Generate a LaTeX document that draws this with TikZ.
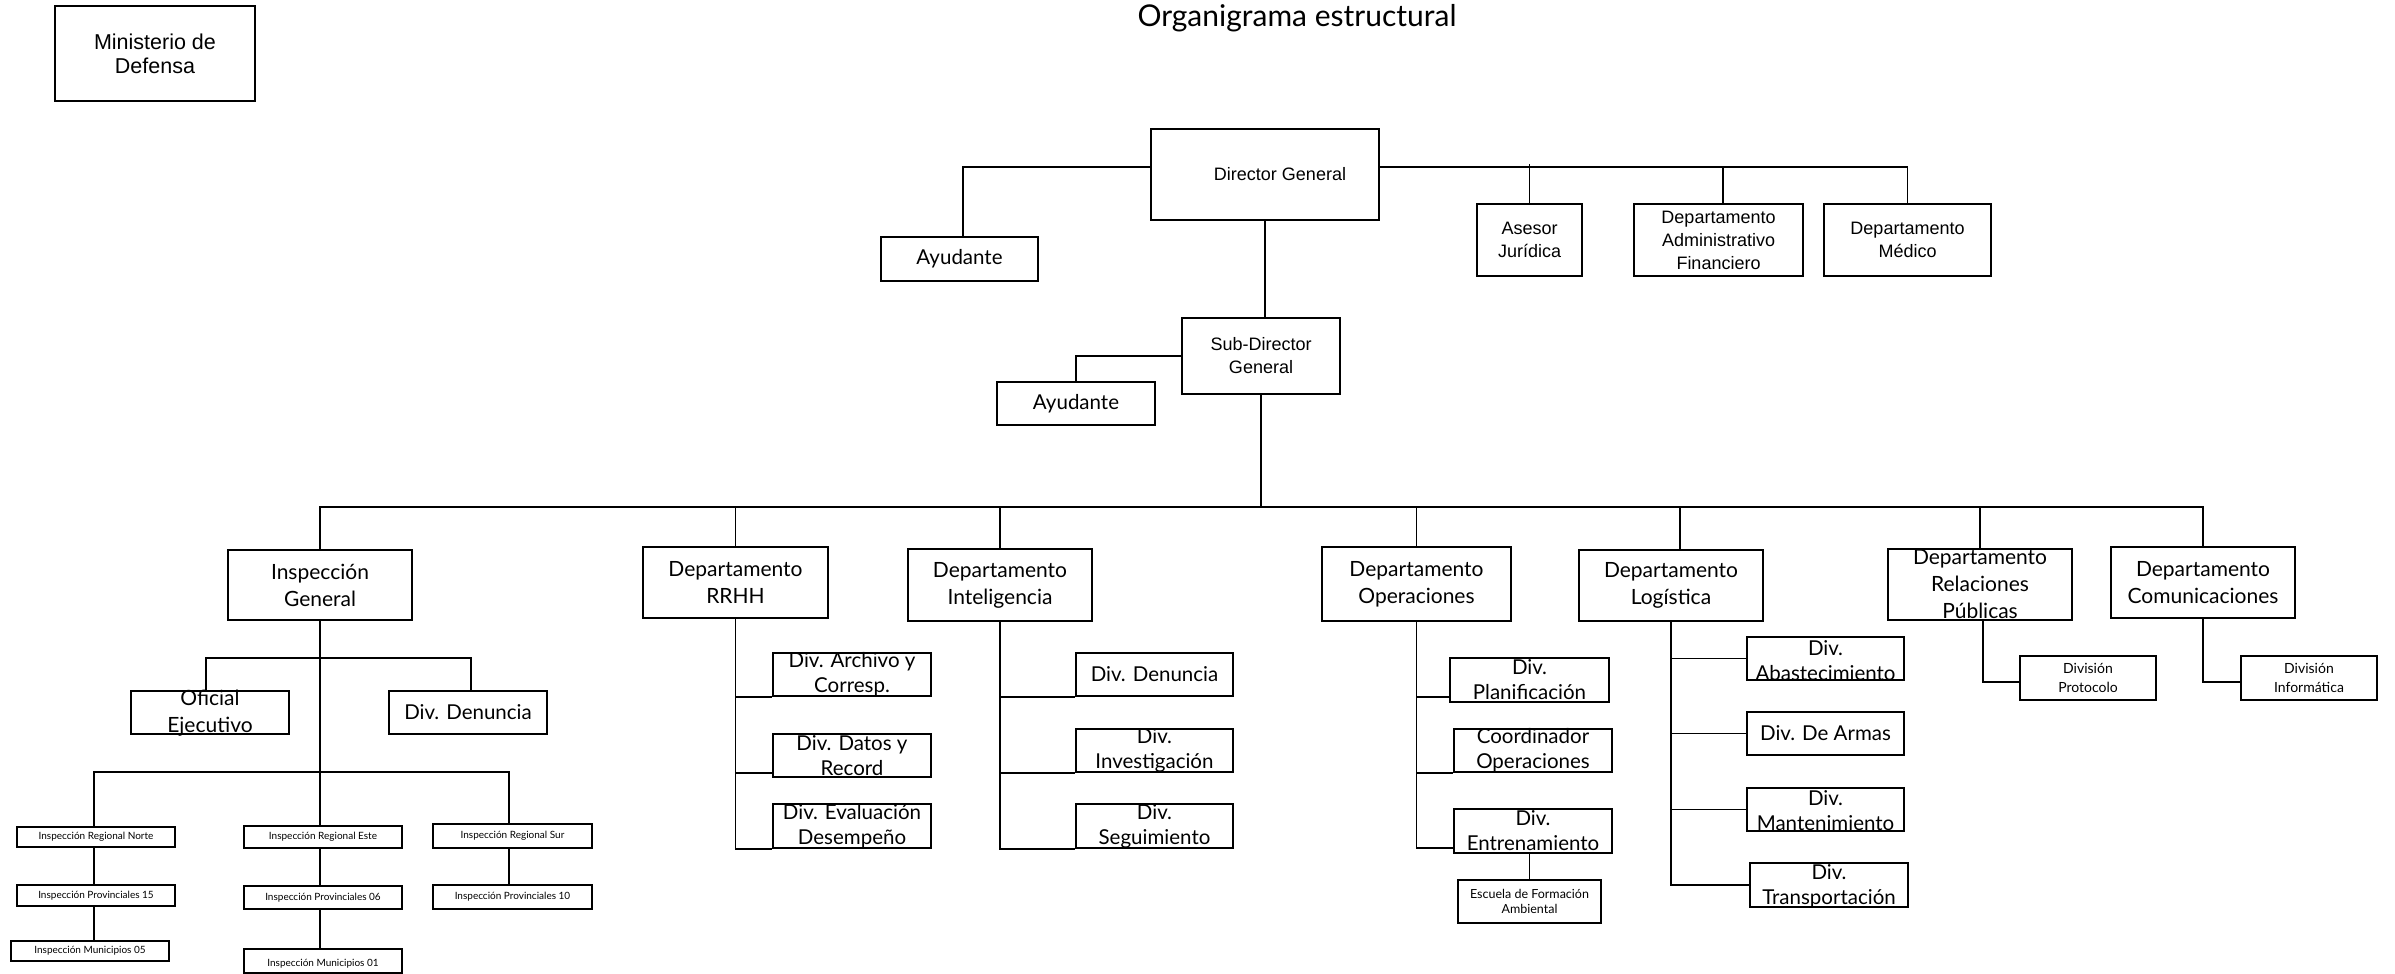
\documentclass[tikz,border=0pt]{standalone}
\usepackage{fontspec}
\setmainfont{Lato}
\newfontfamily\arialfont{Liberation Sans}

\begin{document}
\begin{tikzpicture}[x=1pt, y=-1pt, line width=1.8pt,
    box/.style 2 args={draw, inner sep=0pt, minimum width=#1pt, minimum height=#2pt},
    arial/.style={font=\arialfont\fontsize{18}{23}\selectfont, align=center},
    dept/.style={font=\fontsize{21}{27}\selectfont, align=center},
    div/.style={font=\fontsize{20.5}{25}\selectfont, align=center},
    mini/.style={font=\fontsize{10}{12}\selectfont},
    sub/.style={font=\fontsize{14}{19}\selectfont, align=center},
    school/.style={font=\fontsize{12.5}{15}\selectfont, align=center}]

  \useasboundingbox (0,0) rectangle (2395,974);

  % titulo y ministerio
  \node[font=\fontsize{30}{36}\selectfont, anchor=base] (titulo) at (1297,27) {Organigrama estructural};
  \node[box={200}{95}, label={[arial, font=\arialfont\fontsize{21.5}{24}\selectfont]center:Ministerio de\\Defensa}] (mindef) at (155,53.5) {};

  % direccion
  \node[box={227.5}{91}, label={[arial, xshift=15pt]center:Director General}] (dg) at (1265,174.5) {};
  \node[box={157}{44}, label={[div]center:Ayudante}] (ayu1) at (959.5,259) {};
  \node[box={105}{72}, label={[arial]center:Asesor\\Jurídica}] (ase) at (1529.5,240) {};
  \node[box={169}{72}, label={[arial]center:Departamento\\Administrativo\\Financiero}] (adm) at (1718.5,240) {};
  \node[box={167}{72}, label={[arial]center:Departamento\\Médico}] (med) at (1907.5,240) {};
  \node[box={158}{76}, label={[arial]center:Sub-Director\\General}] (sdg) at (1261,356) {};
  \node[box={158}{43}, label={[div]center:Ayudante}] (ayu2) at (1076,403.5) {};

  % departamentos
  \node[box={184}{70}, label={[dept]center:Inspección\\General}] (ig) at (320,585) {};
  \node[box={185}{71}, label={[dept]center:Departamento\\RRHH}] (rrhh) at (735.5,582.5) {};
  \node[box={184}{72}, label={[dept]center:Departamento\\Inteligencia}] (intel) at (1000,585) {};
  \node[box={189}{74}, label={[dept]center:Departamento\\Operaciones}] (ope) at (1416.5,584) {};
  \node[box={184}{71}, label={[dept]center:Departamento\\Logística}] (log) at (1671,585.5) {};
  \node[box={184}{71}, label={[dept]center:Departamento\\Relaciones\\Públicas}] (rp) at (1980,584.5) {};
  \node[box={184}{71}, label={[dept]center:Departamento\\Comunicaciones}] (com) at (2203,582.5) {};

  % inspeccion general
  \node[box={158}{43}, label={[dept, yshift=-1pt]center:Oficial\\Ejecutivo}] (ofi) at (210,712.5) {};
  \node[box={158}{43}, label={[div]center:Div. Denuncia}] (denig) at (468,712.5) {};
  \node[box={158}{20}, label={[mini]center:Inspección Regional Norte}] (rn) at (96,837) {};
  \node[box={158}{21}, label={[mini]center:Inspección Provinciales 15}] (p15) at (96,895.5) {};
  \node[box={158}{20}, label={[mini]center:Inspección Municipios 05}] (m05) at (90,951) {};
  \node[box={158}{22}, label={[mini]center:Inspección Regional Este}] (re) at (323,837) {};
  \node[box={158}{23}, label={[mini]center:Inspección Provinciales 06}] (p06) at (323,897.5) {};
  \node[box={158}{24}, label={[mini, yshift=-3pt]center:Inspección Municipios 01}] (m01) at (323,961) {};
  \node[box={159}{24}, label={[mini]center:Inspección Regional Sur}] (rs) at (512.5,836) {};
  \node[box={159}{24}, label={[mini]center:Inspección Provinciales 10}] (p10) at (512.5,897) {};

  % rrhh
  \node[box={158}{43}, label={[div]center:Div. Archivo y\\Corresp.}] (arch) at (852,674.5) {};
  \node[box={158}{43}, label={[div]center:Div. Datos y\\Record}] (dat) at (852,755.5) {};
  \node[box={158}{44}, label={[div]center:Div. Evaluación\\Desempeño}] (eva) at (852,826) {};

  % inteligencia
  \node[box={157}{43}, label={[div]center:Div. Denuncia}] (denint) at (1154.5,674.5) {};
  \node[box={157}{43}, label={[div]center:Div.\\Investigación}] (inv) at (1154.5,750.5) {};
  \node[box={157}{44}, label={[div]center:Div.\\Seguimiento}] (seg) at (1154.5,826) {};

  % operaciones
  \node[box={159}{44}, label={[div]center:Div.\\Planificación}] (plan) at (1529.5,680) {};
  \node[box={158}{43}, label={[div]center:Coordinador\\Operaciones}] (coord) at (1533,750.5) {};
  \node[box={158}{44}, label={[div]center:Div.\\Entrenamiento}] (ent) at (1533,831) {};
  \node[box={143}{43}, label={[school]center:Escuela de Formación\\Ambiental}] (esc) at (1529.5,901.5) {};

  % logistica
  \node[box={157}{43}, label={[div, yshift=-2pt]center:Div.\\Abastecimiento}] (abas) at (1825.5,658.5) {};
  \node[box={157}{43}, label={[div]center:Div. De Armas}] (arm) at (1825.5,733.5) {};
  \node[box={157}{43}, label={[div, yshift=-1pt]center:Div.\\Mantenimiento}] (mant) at (1825.5,809.5) {};
  \node[box={158}{44}, label={[div, yshift=-1pt]center:Div.\\Transportación}] (transp) at (1829,885) {};

  % relaciones publicas y comunicaciones
  \node[box={136}{44}, label={[sub]center:División\\Protocolo}] (prot) at (2088,678) {};
  \node[box={136}{44}, label={[sub]center:División\\Informática}] (inf) at (2309,678) {};

  % conectores
  \coordinate (bus) at (0,507);
  \coordinate (ibr) at (0,658);
  \coordinate (ibus) at (0,772);
  \coordinate (dgl) at ([yshift=7.5pt]dg.west);
  \coordinate (dgr) at ([yshift=7.5pt]dg.east);
  \coordinate (datb) at ([yshift=5pt]dat.south west);
  \coordinate (planb) at ([yshift=6pt]plan.south west);
  \coordinate (entb) at ([yshift=6pt]ent.south west);

  \draw (dgl) -| ([xshift=3.5pt]ayu1.north);
  \draw (dgr) -| (med.north);
  \draw (ase.north) -- ([yshift=3pt]ase.north |- dgr);
  \draw ([xshift=4.5pt]adm.north) -- ([xshift=4.5pt]adm.north |- dgr);
  \draw (dg.south) -- (dg.south |- sdg.north);
  \draw (sdg.west) -| (ayu2.north);
  \draw (sdg.south) -- (sdg.south |- bus);
  \draw (ig.north) |- (bus -| com.north) -- (com.north);
  \foreach \d in {rrhh,intel,ope,rp}
    \draw (\d.north) -- (\d.north |- bus);
  \draw ([xshift=9pt]log.north) -- ([xshift=9pt]log.north |- bus);

  \draw (ig.south) -- (ig.south |- re.north);
  \draw ([xshift=-4pt]ofi.north) |- ([xshift=3pt]ibr -| denig.north) -- ([xshift=3pt]denig.north);
  \draw ([xshift=-2pt]rn.north) |- ([xshift=-3.5pt]ibus -| rs.north) -- ([xshift=-3.5pt]rs.north);
  \draw ([xshift=-2pt]rn.south) -- ([xshift=-2pt]p15.north);
  \draw ([xshift=-2pt]p15.south) -- ([xshift=-2pt]p15.south |- m05.north);
  \draw ([xshift=-3pt]re.south) -- ([xshift=-3pt]p06.north);
  \draw ([xshift=-3pt]p06.south) -- ([xshift=-3pt]m01.north);
  \draw ([xshift=-3.5pt]rs.south) -- ([xshift=-3.5pt]p10.north);

  \draw (rrhh.south) |- (eva.south west);
  \draw (rrhh.south |- arch.south west) -- (arch.south west);
  \draw (rrhh.south |- datb) -- (datb);

  \draw (intel.south) |- (seg.south west);
  \draw (intel.south |- denint.south west) -- (denint.south west);
  \draw (intel.south |- inv.south west) -- (inv.south west);

  \draw (ope.south) |- (entb);
  \draw (ope.south |- coord.south west) -- (coord.south west);
  \draw (ope.south |- planb) -- (planb);
  \draw (esc.north) -- (esc.north |- ent.south);

  \draw (log.south) |- (transp.west);
  \foreach \d in {abas,arm,mant}
    \draw (log.south |- \d.west) -- (\d.west);

  \draw ([xshift=3pt]rp.south) |- ([yshift=-4pt]prot.west);
  \draw (com.south) |- ([yshift=-4pt]inf.west);
\end{tikzpicture}
\end{document}
